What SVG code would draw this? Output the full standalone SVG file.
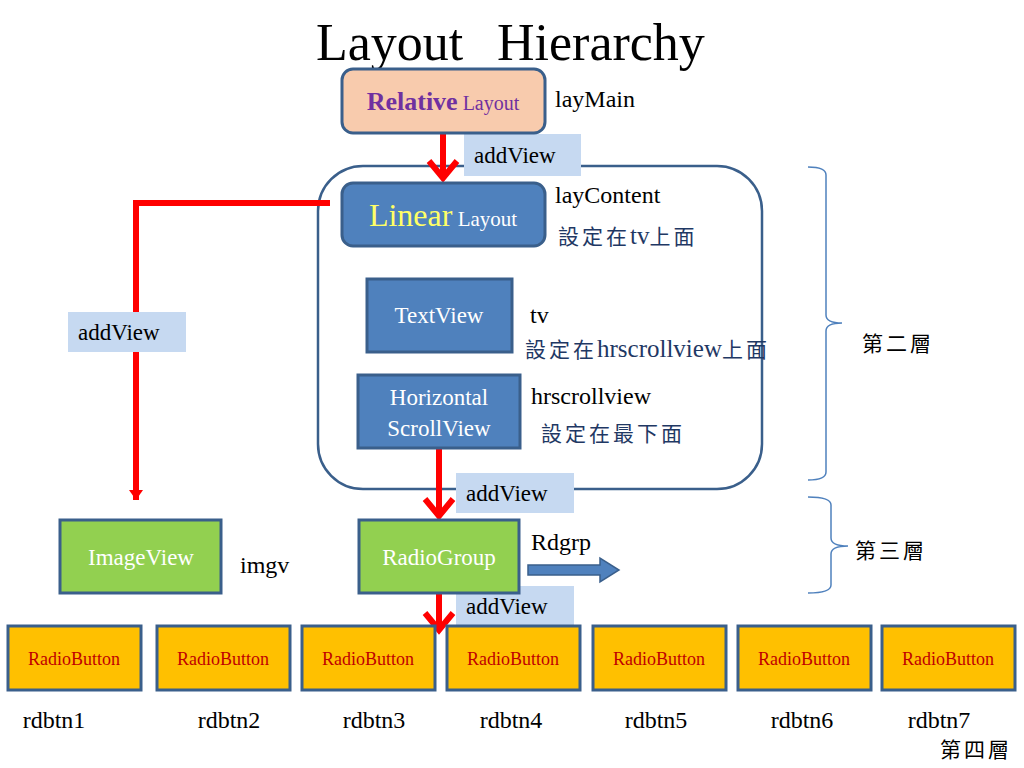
<svg xmlns="http://www.w3.org/2000/svg" width="1024" height="768" viewBox="0 0 1024 768" font-family="'Liberation Serif', 'Noto Sans CJK TC', serif">
<style>
.s{font-family:"Liberation Serif","Noto Sans CJK TC",serif;}
.cjk{font-family:"Noto Sans CJK TC","Noto Sans CJK SC",sans-serif;letter-spacing:3px;font-size:21px;}
.lbl{font-family:"Liberation Serif",serif;font-size:24px;fill:#000;}
.note{font-family:"Liberation Serif","Noto Sans CJK TC",serif;font-size:21px;fill:#1F3864;}
.blue{fill:#4F81BD;stroke:#3A5F8B;stroke-width:3;}
.green{fill:#92D050;stroke:#3A5F8B;stroke-width:3;}
.rb{fill:#FFC000;stroke:#3A5F8B;stroke-width:3;}
.rbt{font-family:"Liberation Serif",serif;font-size:18px;fill:#C00000;text-anchor:middle;}
.wt{font-family:"Liberation Serif",serif;font-size:23px;fill:#FFFFFF;text-anchor:middle;}
.av{fill:#C6D9F1;}
.avt{font-family:"Liberation Serif",serif;font-size:23px;fill:#000;}
.red{stroke:#FF0000;stroke-width:6;fill:none;}
.brace{stroke:#4F81BD;stroke-width:1.5;fill:none;}
.rdl{font-family:"Liberation Serif",serif;font-size:24px;fill:#000;text-anchor:middle;}
.layer{font-family:"Noto Sans CJK TC","Noto Sans CJK SC",sans-serif;font-size:21px;fill:#000;letter-spacing:3px;}
</style>
<defs>
<marker id="chev" markerUnits="userSpaceOnUse" markerWidth="30" markerHeight="34" viewBox="0 0 30 34" refX="22" refY="17" orient="auto">
<path d="M5,3 L22,17 L5,31" stroke="#FF0000" stroke-width="6" fill="none" stroke-linejoin="miter"/>
</marker>
<marker id="tri" markerUnits="userSpaceOnUse" markerWidth="12" markerHeight="14" viewBox="0 0 12 14" refX="10" refY="7" orient="auto">
<path d="M0,0 L10,7 L0,14 Z" fill="#FF0000"/>
</marker>
</defs>
<rect width="1024" height="768" fill="#FFFFFF"/>
<text class="s" y="60" font-size="52" fill="#000"><tspan x="316">Layout</tspan><tspan x="497">Hierarchy</tspan></text>

<g id="container">
<rect x="318" y="166" width="444" height="323" rx="45" ry="45" fill="none" stroke="#3A5F8B" stroke-width="2.5"/>
</g>

<g id="braces">
<path class="brace" d="M808,167 Q826,167 826,175 L826,315 Q826,323 842,323 Q826,323 826,331 L826,472 Q826,480 808,480"/>
<text x="862" y="351" class="layer">第二層</text>
<path class="brace" d="M808,497 Q831,497 831,505 L831,538 Q831,546 848,546 Q831,546 831,554 L831,585 Q831,593 808,593"/>
<text x="855" y="558" class="layer">第三層</text>
</g>

<g id="connectors">
<line class="red" x1="443" y1="133" x2="443" y2="178" marker-end="url(#chev)"/>
<line class="red" x1="439" y1="448" x2="439" y2="516" marker-end="url(#chev)"/>
<line class="red" x1="439" y1="587" x2="439" y2="630" marker-end="url(#chev)"/>
<polyline class="red" points="330,203 136,203 136,500" stroke-linejoin="miter" marker-end="url(#tri)"/>
<path d="M528,565 L600,565 L600,558 L619,570 L600,582 L600,575 L528,575 Z" fill="#4F81BD" stroke="#3A5F8B" stroke-width="1.5"/>
</g>

<g id="addview-labels">
<rect class="av" x="464" y="134" width="117" height="42"/>
<text class="avt" x="474" y="163">addView</text>
<rect class="av" x="68" y="312" width="118" height="40"/>
<text class="avt" x="78" y="340">addView</text>
<rect class="av" x="456" y="473" width="118" height="40"/>
<text class="avt" x="466" y="501">addView</text>
<rect class="av" x="456" y="586" width="118" height="40"/>
<text class="avt" x="466" y="614">addView</text>
</g>

<g id="relative-layout">
<rect x="342" y="69" width="203" height="64" rx="11" fill="#F8CBAD" stroke="#3A5F8B" stroke-width="3"/>
<text class="s" x="443" y="110" text-anchor="middle" fill="#7030A0"><tspan font-size="26" font-weight="bold">Relative</tspan><tspan font-size="20"> Layout</tspan></text>
<text class="lbl" x="555" y="107">layMain</text>
</g>

<g id="linear-layout">
<rect x="342" y="183" width="203" height="63" rx="11" class="blue"/>
<text class="s" x="443" y="226" text-anchor="middle"><tspan font-size="32" fill="#FFFF66">Linear</tspan><tspan font-size="21" fill="#FFFFFF"> Layout</tspan></text>
<text class="lbl" x="555" y="203">layContent</text>
<text class="note" x="558" y="244"><tspan class="cjk">設定在</tspan><tspan font-size="25">tv</tspan><tspan class="cjk">上面</tspan></text>
</g>

<g id="textview">
<rect x="367" y="279" width="145" height="73" class="blue"/>
<text class="wt" x="439" y="323">TextView</text>
<text class="lbl" x="530" y="323">tv</text>
<text class="note" x="525" y="357"><tspan class="cjk">設定在</tspan><tspan font-size="25">hrscrollview</tspan><tspan class="cjk">上面</tspan></text>
</g>

<g id="hscrollview">
<rect x="358" y="375" width="162" height="73" class="blue"/>
<text class="wt" x="439" y="405">Horizontal</text>
<text class="wt" x="439" y="436">ScrollView</text>
<text class="lbl" x="531" y="404">hrscrollview</text>
<text class="note cjk" x="541" y="441" letter-spacing="5">設定在最下面</text>
</g>

<g id="imageview">
<rect x="60" y="520" width="161" height="73" class="green"/>
<text class="wt" x="141" y="565">ImageView</text>
<text class="lbl" x="240" y="573">imgv</text>
</g>

<g id="radiogroup">
<rect x="359" y="520" width="160" height="73" class="green"/>
<text class="wt" x="439" y="565">RadioGroup</text>
<text class="lbl" x="531" y="550">Rdgrp</text>
</g>

<g id="rdbtn1"><rect class="rb" x="8" y="626" width="133" height="64"/><text class="rbt" x="74" y="665">RadioButton</text><text class="rdl" x="54" y="728">rdbtn1</text></g>
<g id="rdbtn2"><rect class="rb" x="157" y="626" width="133" height="64"/><text class="rbt" x="223" y="665">RadioButton</text><text class="rdl" x="229" y="728">rdbtn2</text></g>
<g id="rdbtn3"><rect class="rb" x="302" y="626" width="133" height="64"/><text class="rbt" x="368" y="665">RadioButton</text><text class="rdl" x="374" y="728">rdbtn3</text></g>
<g id="rdbtn4"><rect class="rb" x="447" y="626" width="133" height="64"/><text class="rbt" x="513" y="665">RadioButton</text><text class="rdl" x="511" y="728">rdbtn4</text></g>
<g id="rdbtn5"><rect class="rb" x="593" y="626" width="133" height="64"/><text class="rbt" x="659" y="665">RadioButton</text><text class="rdl" x="656" y="728">rdbtn5</text></g>
<g id="rdbtn6"><rect class="rb" x="738" y="626" width="133" height="64"/><text class="rbt" x="804" y="665">RadioButton</text><text class="rdl" x="802" y="728">rdbtn6</text></g>
<g id="rdbtn7"><rect class="rb" x="882" y="626" width="133" height="64"/><text class="rbt" x="948" y="665">RadioButton</text><text class="rdl" x="939" y="728">rdbtn7</text></g>
<text x="940" y="757" class="layer" letter-spacing="1">第四層</text>
</svg>
